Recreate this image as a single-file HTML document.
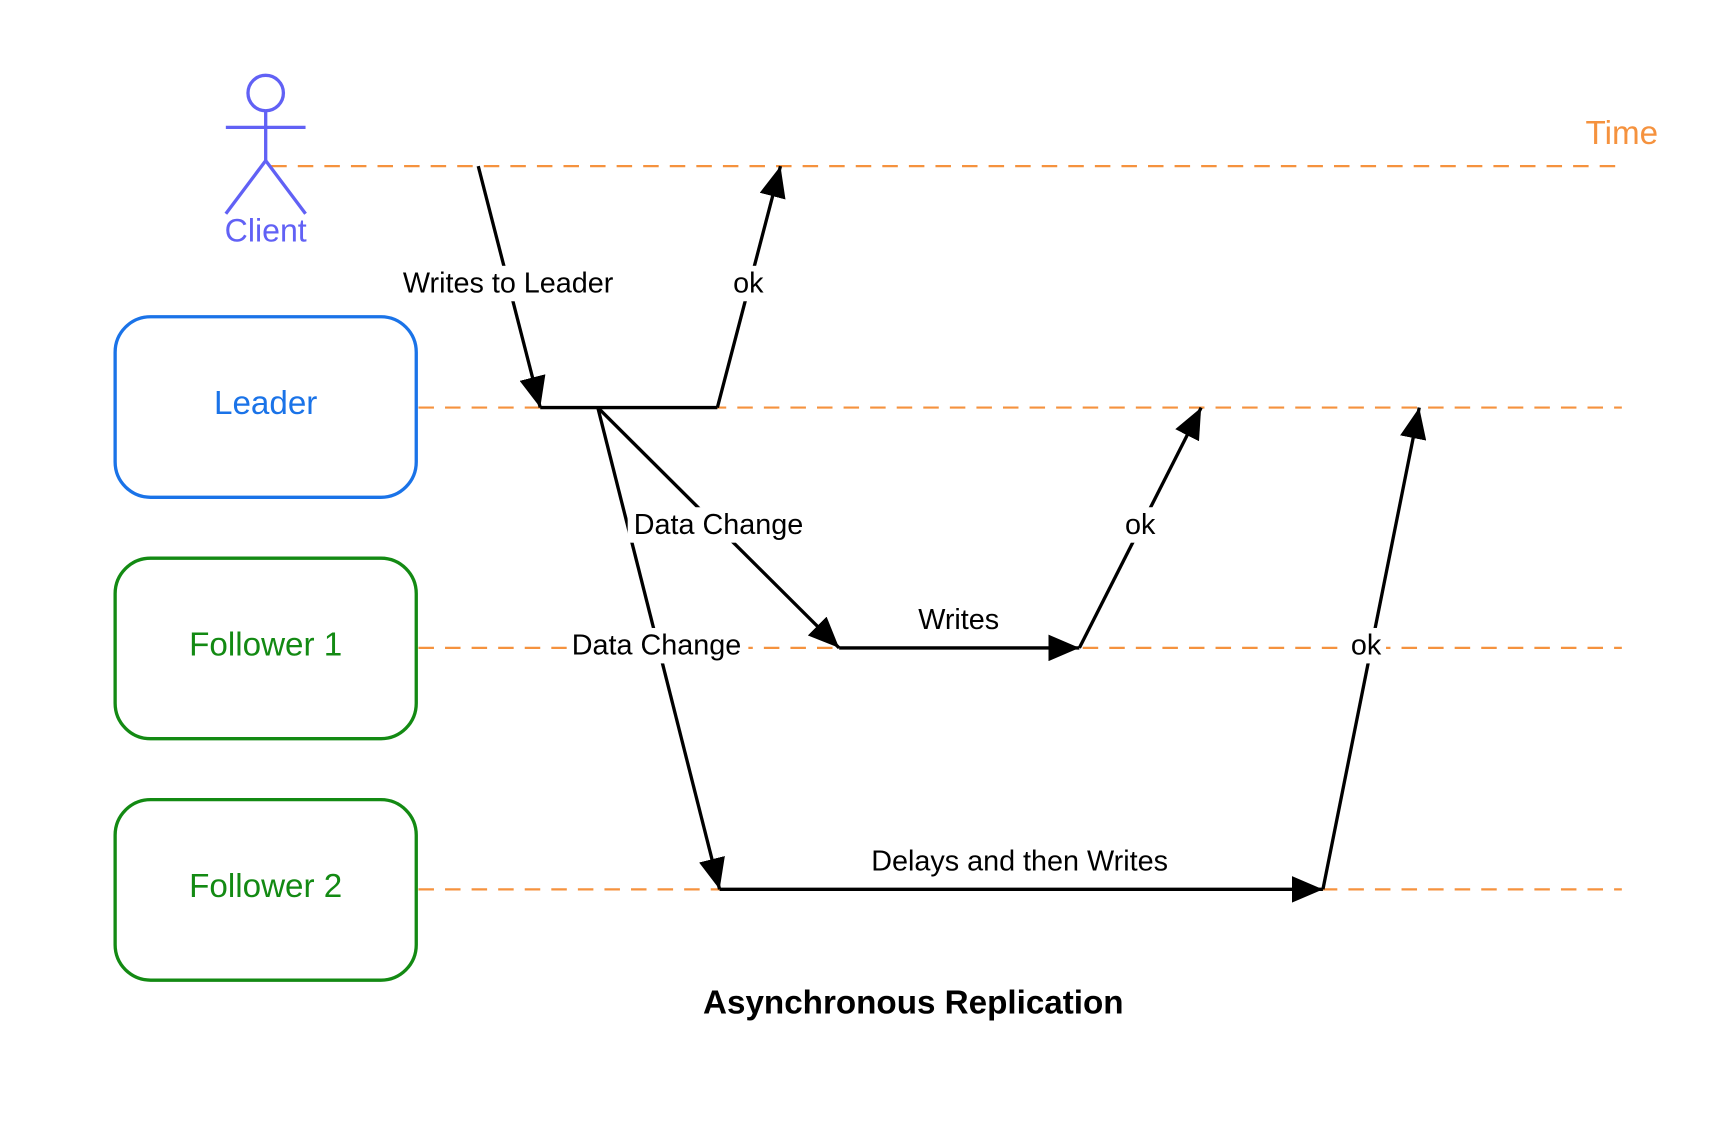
<!DOCTYPE html>
<html><head><meta charset="utf-8"><style>html,body{margin:0;padding:0;background:#fff}svg{display:block}</style></head>
<body>
<svg width="1727" height="1133" viewBox="0 0 1560 1023" preserveAspectRatio="none" xmlns="http://www.w3.org/2000/svg" font-family="Liberation Sans, sans-serif">
<defs>
<marker id="a" markerWidth="28" markerHeight="24" refX="28" refY="12" orient="auto" markerUnits="userSpaceOnUse" viewBox="0 0 28 24"><path d="M0,0 L28,12 L0,24 Z" fill="#000"/></marker>
</defs>
<rect width="1560" height="1023" fill="#fff"/>
<g stroke="#f5923e" stroke-width="2" stroke-dasharray="14,10" fill="none">
<line x1="245" y1="150" x2="1465" y2="150"/>
<line x1="378" y1="368" x2="1465" y2="368"/>
<line x1="378" y1="585" x2="1465" y2="585"/>
<line x1="378" y1="803" x2="1465" y2="803"/>
</g>
<g stroke="#6161f5" stroke-width="3" fill="none">
<circle cx="240" cy="84" r="16"/>
<line x1="240" y1="100" x2="240" y2="145"/>
<line x1="204" y1="115" x2="276" y2="115"/>
<line x1="240" y1="145" x2="204" y2="193"/>
<line x1="240" y1="145" x2="276" y2="193"/>
</g>
<text x="240" y="218" font-size="29" fill="#6161f5" text-anchor="middle">Client</text>
<text x="1465" y="130" font-size="30" fill="#f5923e" text-anchor="middle">Time</text>
<rect x="104" y="286" width="272" height="163" rx="32" fill="none" stroke="#1a73e8" stroke-width="3"/>
<rect x="104" y="504" width="272" height="163" rx="32" fill="none" stroke="#138a13" stroke-width="3"/>
<rect x="104" y="722" width="272" height="163" rx="32" fill="none" stroke="#138a13" stroke-width="3"/>
<text x="240" y="374" font-size="30" fill="#1a73e8" text-anchor="middle">Leader</text>
<text x="240" y="592" font-size="30" fill="#138a13" text-anchor="middle">Follower 1</text>
<text x="240" y="810" font-size="30" fill="#138a13" text-anchor="middle">Follower 2</text>
<g stroke="#000" stroke-width="3" fill="none">
<line x1="432" y1="150" x2="488" y2="368" marker-end="url(#a)"/>
<line x1="488" y1="368" x2="648" y2="368"/>
<line x1="648" y1="368" x2="705" y2="150" marker-end="url(#a)"/>
<line x1="540" y1="368" x2="758" y2="585" marker-end="url(#a)"/>
<line x1="540" y1="368" x2="650" y2="803" marker-end="url(#a)"/>
<line x1="758" y1="585" x2="975" y2="585" marker-end="url(#a)"/>
<line x1="975" y1="585" x2="1085" y2="368" marker-end="url(#a)"/>
<line x1="650" y1="803" x2="1195" y2="803" marker-end="url(#a)"/>
<line x1="1195" y1="803" x2="1282" y2="368" marker-end="url(#a)"/>
</g>
<style>.l{font-size:26px;text-anchor:middle}</style>
<g fill="#fff">
<rect x="358" y="240" width="202" height="32"/>
<rect x="658" y="240" width="36" height="32"/>
<rect x="567" y="458" width="164" height="32"/>
<rect x="512" y="567" width="164" height="32"/>
<rect x="1012" y="458" width="36" height="32"/>
<rect x="1216" y="567" width="36" height="32"/>
</g>
<text class="l" x="459" y="264">Writes to Leader</text>
<text class="l" x="676" y="264">ok</text>
<text class="l" x="649" y="482">Data Change</text>
<text class="l" x="593" y="591">Data Change</text>
<text class="l" x="866" y="568">Writes</text>
<text class="l" x="1030" y="482">ok</text>
<text class="l" x="1234" y="591">ok</text>
<text class="l" x="921" y="786">Delays and then Writes</text>
<text x="825" y="915" font-size="30" font-weight="bold" text-anchor="middle">Asynchronous Replication</text>
</svg>
</body></html>
